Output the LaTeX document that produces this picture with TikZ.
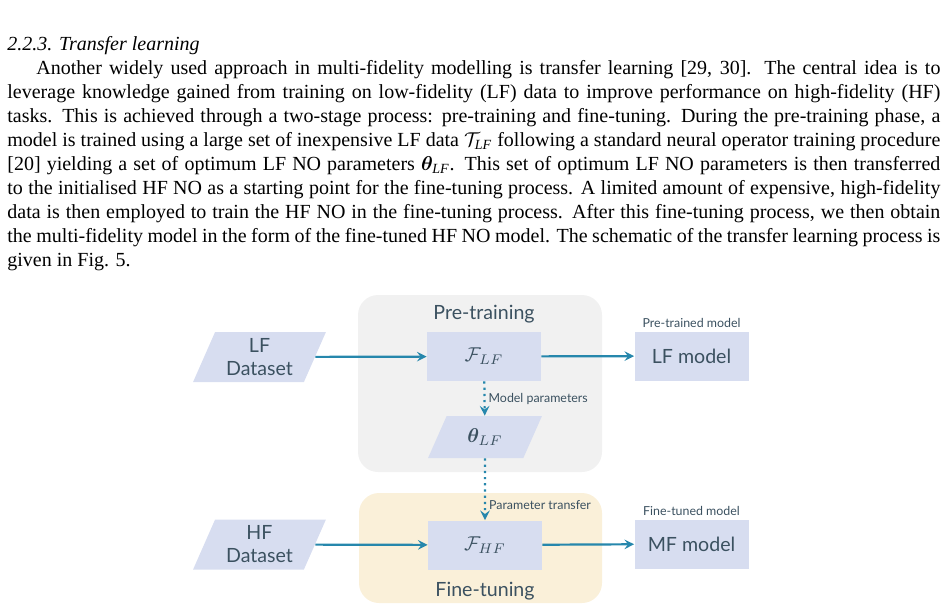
\documentclass[tikz,border=0pt]{standalone}
\usepackage{amsmath,bm}
\usepackage{fontspec}
\setmainfont{Liberation Serif}
\newfontfamily\diagfont{Lato}
\usetikzlibrary{shapes.geometric}
\definecolor{panelgray}{HTML}{F1F1F1}
\definecolor{panelyellow}{HTML}{FAF0D9}
\definecolor{boxblue}{HTML}{D7DDF0}
\definecolor{flowteal}{HTML}{2687AC}
\definecolor{slate}{HTML}{3B5160}
\begin{document}
\begin{tikzpicture}[x=0.5pt,y=-0.5pt,>=stealth,
    modelbox/.style={fill=boxblue,minimum width=57pt,minimum height=24.5pt,inner sep=0pt,text=slate,font=\diagfont\fontsize{9.8}{11}\selectfont},
    databox/.style={trapezium,trapezium left angle=66,trapezium right angle=114,trapezium stretches=true,fill=boxblue,minimum width=66.5pt,minimum height=25pt,inner sep=0pt,align=center,text=slate,font=\diagfont\fontsize{9.8}{11.5}\selectfont},
    stagelabel/.style={text=slate,font=\diagfont\fontsize{9.8}{11}\selectfont},
    smalllabel/.style={text=slate,font=\diagfont\fontsize{6.2}{7}\selectfont,inner sep=1.5pt},
    flow/.style={->,draw=flowteal,line width=1.1pt},
    paramflow/.style={flow,dotted}]
  \useasboundingbox (0,0) rectangle (945,610);
  % the text above the figure
  \node [anchor=north west,inner sep=0pt,text width=466.5pt,align=justify] (body) at (7,35)
    {\fontsize{10}{11}\selectfont\strut\textit{2.2.3. Transfer learning}\\
     \hspace*{14.5pt}Another widely used approach in multi-fidelity modelling is transfer learning [29, 30].  The central idea is to\linebreak\relax
     leverage knowledge gained from training on low-fidelity (LF) data to improve performance on high-fidelity (HF)\linebreak\relax
     tasks.  This is achieved through a two-stage process: pre-training and fine-tuning.  During the pre-training phase, a\linebreak\relax
     model is trained using a large set of inexpensive LF data $\mathcal{T}_{\mathit{LF}}$ following a standard neural operator training procedure\linebreak\relax
     [20] yielding a set of optimum LF NO parameters $\bm{\theta}_{\mathit{LF}}$.  This set of optimum LF NO parameters is then transferred\linebreak\relax
     to the initialised HF NO as a starting point for the fine-tuning process.  A limited amount of expensive, high-fidelity\linebreak\relax
     data is then employed to train the HF NO in the fine-tuning process.  After this fine-tuning process, we then obtain\linebreak\relax
     the multi-fidelity model in the form of the fine-tuned HF NO model. The schematic of the transfer learning process is\linebreak\relax
     given in Fig. 5.};
  % stage panels
  \fill [panelgray,rounded corners=10pt] (358,295) rectangle (602,472);
  \fill [panelyellow,rounded corners=10pt] (359,493) rectangle (602,603);
  \node [stagelabel] (pretrain) at (484,314) {Pre-training};
  \node [stagelabel] (finetune) at (485,591) {Fine-tuning};
  % pre-training row
  \node [databox] (lfdata) at (259.5,357) {LF\\Dataset};
  \node [modelbox] (flf) at (484,356.5) {$\mathcal{F}_{LF}$};
  \node [modelbox] (lfmodel) at (691.5,356) {LF model};
  \node [smalllabel,anchor=south] (pretrained) at (lfmodel.north) {Pre-trained model};
  \node [databox,trapezium left angle=63,trapezium right angle=117,minimum width=57pt,minimum height=21pt,font=\fontsize{9.8}{11}\selectfont] (theta) at (485,437) {$\bm{\theta}_{LF}$};
  % fine-tuning row
  \node [databox] (hfdata) at (259.5,544.5) {HF\\Dataset};
  \node [modelbox] (fhf) at (485,545) {$\mathcal{F}_{HF}$};
  \node [modelbox] (mfmodel) at (691.5,544) {MF model};
  \node [smalllabel,anchor=south] (finetuned) at (mfmodel.north) {Fine-tuned model};
  % connectors
  \draw [flow] (lfdata) -- (flf);
  \draw [flow] (flf) -- (lfmodel);
  \draw [paramflow] (flf) -- node [smalllabel,right] {Model parameters} (theta);
  \draw [paramflow] (theta) -- node [smalllabel,right,pos=.75] {Parameter transfer} (fhf);
  \draw [flow] (hfdata) -- (fhf);
  \draw [flow] (fhf) -- (mfmodel);
\end{tikzpicture}
\end{document}
